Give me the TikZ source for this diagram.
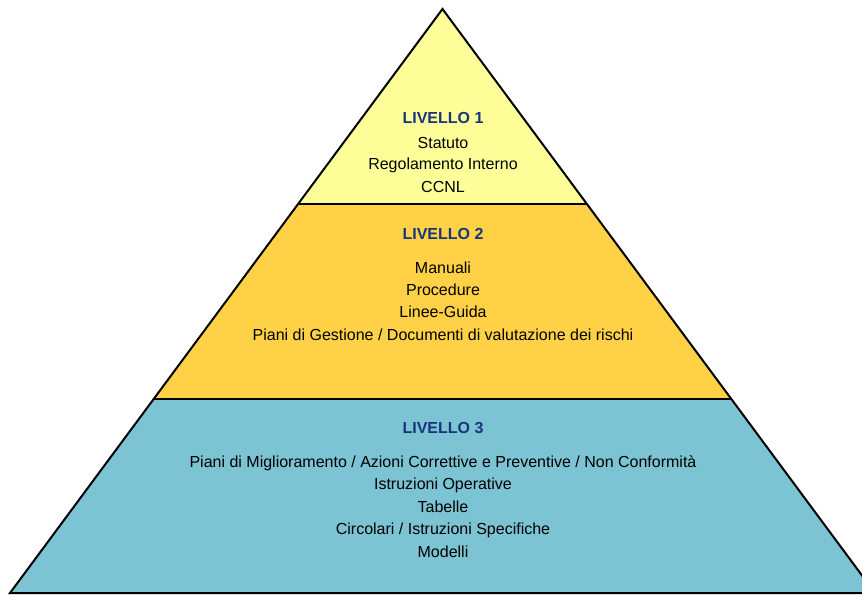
\documentclass[tikz,border=0pt]{standalone}
\usepackage{fontspec}
\setmainfont{Liberation Sans}
\definecolor{lvyellow}{HTML}{FFFF99}
\definecolor{lvorange}{HTML}{FFD147}
\definecolor{lvblue}{HTML}{7CC3D4}
\definecolor{lvnavy}{HTML}{17367A}
\tikzset{
  title/.style={font=\fontsize{16}{19}\selectfont\bfseries, text=lvnavy, text height=11.5pt, text depth=0pt, inner sep=0pt},
  item/.style={font=\fontsize{16}{19}\selectfont, text=black, text height=11.5pt, text depth=0pt, inner sep=0pt},
  edge/.style={draw=black, line width=2pt, line join=miter}
}
\begin{document}
\begin{tikzpicture}[x=1pt,y=-1pt]
\useasboundingbox (0,0) rectangle (862,595);
\clip (0,0) rectangle (862,595);
\coordinate (apex) at (442.5,9);
\coordinate (L1) at (298.1,204);
\coordinate (R1) at (586.9,204);
\coordinate (L2) at (153.7,399);
\coordinate (R2) at (731.3,399);
\coordinate (BL) at (10,593);
\coordinate (BR) at (875,593);
\fill[lvyellow] (apex) -- (R1) -- (L1) -- cycle;
\fill[lvorange] (L1) -- (R1) -- (R2) -- (L2) -- cycle;
\fill[lvblue] (L2) -- (R2) -- (BR) -- (BL) -- cycle;
\draw[edge] (L1) -- (R1);
\draw[edge] (L2) -- (R2);
\draw[edge] (apex) -- (BR) -- (BL) -- cycle;
\node[title] (t1) at (443,118) {LIVELLO 1};
\node[item] (a1) at (443,143) {Statuto};
\node[item] (a2) at (443,164) {Regolamento Interno};
\node[item] (a3) at (443,187) {CCNL};
\node[title] (t2) at (443,234) {LIVELLO 2};
\node[item] (b1) at (443,268) {Manuali};
\node[item] (b2) at (443,290) {Procedure};
\node[item] (b3) at (443,312) {Linee-Guida};
\node[item] (b4) at (443,335) {Piani di Gestione / Documenti di valutazione dei rischi};
\node[title] (t3) at (443,428) {LIVELLO 3};
\node[item] (c1) at (443,462) {Piani di Miglioramento / Azioni Correttive e Preventive / Non Conformità};
\node[item] (c2) at (443,484) {Istruzioni Operative};
\node[item] (c3) at (443,507) {Tabelle};
\node[item] (c4) at (443,529) {Circolari / Istruzioni Specifiche};
\node[item] (c5) at (443,552) {Modelli};
\end{tikzpicture}
\end{document}
